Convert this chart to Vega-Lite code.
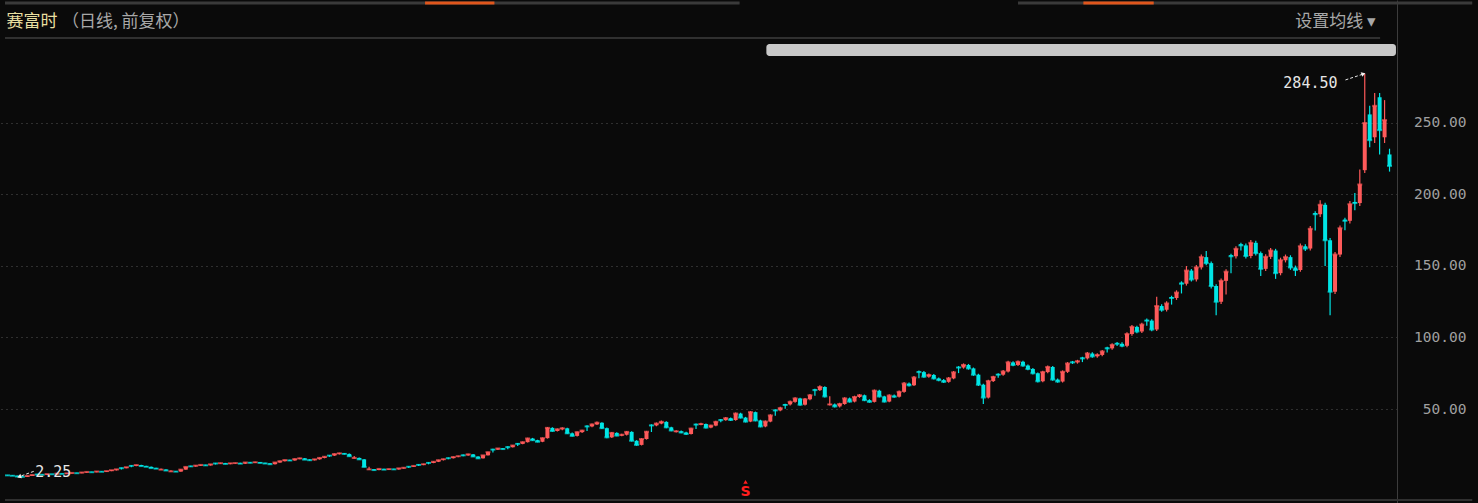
{
"$schema": "https://vega.github.io/schema/vega-lite/v6.json",
"width": 1397, "height": 503,
"autosize": {"type": "none"},
"padding": {"left": 0, "top": 0, "right": 81, "bottom": 0},
"background": "#0a0a0a",
"config": {"view": {"stroke": null}},
"resolve": {"axis": {"x": "independent", "y": "independent"}},
"datasets": {
"k": [
{"t":0,"o":3.8,"c":3.6,"h":3.9,"l":3.5},{"t":1,"o":3.6,"c":3.3,"h":3.7,"l":3.2},{"t":2,"o":3.3,"c":2.8,"h":3.4,"l":2.7},{"t":3,"o":2.8,"c":2.6,"h":2.9,"l":2.25},{"t":4,"o":2.6,"c":3.2,"h":3.3,"l":2.5},
{"t":5,"o":3.2,"c":3.9,"h":4.0,"l":3.1},{"t":6,"o":4.4,"c":4.2,"h":4.5,"l":3.9},{"t":7,"o":4.2,"c":4.0,"h":4.3,"l":3.9},{"t":8,"o":4.0,"c":4.5,"h":4.6,"l":3.9},{"t":9,"o":4.5,"c":4.4,"h":4.6,"l":4.3},
{"t":10,"o":4.4,"c":4.8,"h":4.9,"l":4.3},{"t":11,"o":4.8,"c":4.6,"h":4.9,"l":4.5},{"t":12,"o":4.6,"c":5.0,"h":5.1,"l":4.5},{"t":13,"o":5.0,"c":5.3,"h":5.4,"l":4.9},{"t":14,"o":5.3,"c":5.1,"h":5.4,"l":5.0},
{"t":15,"o":5.1,"c":5.6,"h":5.7,"l":5.0},{"t":16,"o":5.6,"c":6.0,"h":6.1,"l":5.5},{"t":17,"o":6.0,"c":5.8,"h":6.1,"l":5.7},{"t":18,"o":5.8,"c":6.3,"h":6.4,"l":5.7},{"t":19,"o":6.3,"c":6.1,"h":6.4,"l":6.0},
{"t":20,"o":6.1,"c":6.6,"h":6.7,"l":6.0},{"t":21,"o":6.6,"c":7.2,"h":7.3,"l":6.5},{"t":22,"o":7.2,"c":7.8,"h":8.0,"l":7.0},{"t":23,"o":8.9,"c":8.6,"h":9.0,"l":7.7},{"t":24,"o":8.6,"c":9.3,"h":9.5,"l":8.5},
{"t":25,"o":10.4,"c":10.2,"h":10.6,"l":9.2},{"t":26,"o":10.2,"c":10.8,"h":11.1,"l":10.0},{"t":27,"o":10.8,"c":10.1,"h":11.0,"l":9.9},{"t":28,"o":10.1,"c":9.6,"h":10.3,"l":9.4},{"t":29,"o":9.6,"c":8.7,"h":9.8,"l":8.5},
{"t":30,"o":8.7,"c":8.3,"h":8.9,"l":8.1},{"t":31,"o":7.4,"c":7.6,"h":8.4,"l":7.3},{"t":32,"o":7.6,"c":7.0,"h":7.8,"l":6.8},{"t":33,"o":6.2,"c":6.4,"h":7.1,"l":6.1},{"t":34,"o":6.4,"c":6.2,"h":6.6,"l":6.0},
{"t":35,"o":6.2,"c":7.6,"h":7.8,"l":6.1},{"t":36,"o":7.6,"c":9.5,"h":9.7,"l":7.5},{"t":37,"o":10.1,"c":9.9,"h":10.3,"l":9.4},{"t":38,"o":9.9,"c":10.4,"h":10.6,"l":9.7},{"t":39,"o":10.4,"c":10.9,"h":11.1,"l":10.2},
{"t":40,"o":10.9,"c":10.6,"h":11.1,"l":10.4},{"t":41,"o":10.6,"c":11.3,"h":11.5,"l":10.4},{"t":42,"o":12.1,"c":11.9,"h":12.3,"l":11.2},{"t":43,"o":11.9,"c":12.1,"h":12.4,"l":11.7},{"t":44,"o":12.1,"c":11.6,"h":12.3,"l":11.4},
{"t":45,"o":11.6,"c":12.0,"h":12.3,"l":11.4},{"t":46,"o":12.0,"c":12.2,"h":12.5,"l":11.8},{"t":47,"o":12.2,"c":11.8,"h":12.4,"l":11.6},{"t":48,"o":11.8,"c":12.6,"h":12.9,"l":11.6},{"t":49,"o":12.6,"c":12.4,"h":12.9,"l":12.1},
{"t":50,"o":12.4,"c":12.8,"h":13.1,"l":12.2},{"t":51,"o":12.8,"c":12.3,"h":13.0,"l":12.0},{"t":52,"o":12.3,"c":11.9,"h":12.5,"l":11.7},{"t":53,"o":11.9,"c":11.4,"h":12.1,"l":11.2},{"t":54,"o":11.4,"c":12.6,"h":12.8,"l":11.2},
{"t":55,"o":12.6,"c":13.5,"h":13.8,"l":12.4},{"t":56,"o":13.5,"c":14.3,"h":14.6,"l":13.3},{"t":57,"o":14.3,"c":14.0,"h":14.6,"l":13.7},{"t":58,"o":14.0,"c":15.0,"h":15.3,"l":13.8},{"t":59,"o":15.0,"c":15.5,"h":15.9,"l":14.8},
{"t":60,"o":15.5,"c":14.6,"h":15.7,"l":14.3},{"t":61,"o":14.6,"c":14.2,"h":14.9,"l":13.9},{"t":62,"o":14.2,"c":14.8,"h":15.1,"l":14.0},{"t":63,"o":14.8,"c":15.8,"h":16.1,"l":14.6},{"t":64,"o":15.8,"c":16.6,"h":16.9,"l":15.5},
{"t":65,"o":17.6,"c":17.4,"h":17.8,"l":16.5},{"t":66,"o":17.4,"c":18.5,"h":18.9,"l":17.2},{"t":67,"o":18.5,"c":19.0,"h":19.4,"l":18.2},{"t":68,"o":19.0,"c":18.6,"h":19.3,"l":18.2},{"t":69,"o":18.6,"c":17.0,"h":18.8,"l":16.7},
{"t":70,"o":15.5,"c":15.8,"h":17.1,"l":15.3},{"t":71,"o":15.8,"c":14.8,"h":16.0,"l":14.5},{"t":72,"o":14.8,"c":9.5,"h":15.0,"l":9.2},{"t":73,"o":7.6,"c":7.8,"h":9.6,"l":7.5},{"t":74,"o":7.8,"c":7.3,"h":8.0,"l":7.0},
{"t":75,"o":7.3,"c":8.1,"h":8.3,"l":7.1},{"t":76,"o":8.1,"c":7.6,"h":8.3,"l":7.4},{"t":77,"o":7.6,"c":8.0,"h":8.2,"l":7.4},{"t":78,"o":8.0,"c":7.8,"h":8.2,"l":7.6},{"t":79,"o":7.8,"c":8.5,"h":8.7,"l":7.6},
{"t":80,"o":8.5,"c":8.9,"h":9.1,"l":8.3},{"t":81,"o":9.8,"c":9.6,"h":10.0,"l":8.8},{"t":82,"o":9.6,"c":10.2,"h":10.4,"l":9.4},{"t":83,"o":11.2,"c":10.9,"h":11.4,"l":10.1},{"t":84,"o":10.9,"c":11.4,"h":11.7,"l":10.7},
{"t":85,"o":12.5,"c":12.3,"h":12.8,"l":11.3},{"t":86,"o":12.3,"c":13.1,"h":13.4,"l":12.1},{"t":87,"o":13.1,"c":14.2,"h":14.5,"l":12.9},{"t":88,"o":14.5,"c":14.9,"h":15.2,"l":14.0},{"t":89,"o":15.8,"c":15.6,"h":16.0,"l":14.8},
{"t":90,"o":15.6,"c":16.4,"h":16.7,"l":15.3},{"t":91,"o":16.8,"c":17.0,"h":17.3,"l":16.3},{"t":92,"o":17.9,"c":17.6,"h":18.1,"l":16.9},{"t":93,"o":17.6,"c":18.3,"h":18.7,"l":17.3},{"t":94,"o":18.3,"c":16.8,"h":18.5,"l":16.5},
{"t":95,"o":16.8,"c":15.5,"h":17.0,"l":15.2},{"t":96,"o":15.5,"c":17.6,"h":17.9,"l":15.3},{"t":97,"o":17.6,"c":19.8,"h":20.1,"l":17.4},{"t":98,"o":21.9,"c":21.6,"h":22.2,"l":19.6},{"t":99,"o":21.6,"c":22.4,"h":22.8,"l":21.3},
{"t":100,"o":22.4,"c":22.0,"h":22.8,"l":21.6},{"t":101,"o":23.6,"c":23.3,"h":23.9,"l":21.9},{"t":102,"o":23.3,"c":24.4,"h":24.8,"l":23.1},{"t":103,"o":25.9,"c":25.6,"h":26.2,"l":24.2},{"t":104,"o":25.6,"c":26.8,"h":27.2,"l":25.3},
{"t":105,"o":26.8,"c":29.4,"h":29.9,"l":26.5},{"t":106,"o":29.4,"c":28.2,"h":29.8,"l":27.8},{"t":107,"o":28.2,"c":27.1,"h":28.5,"l":26.7},{"t":108,"o":27.1,"c":29.6,"h":30.1,"l":26.8},{"t":109,"o":29.6,"c":36.8,"h":37.4,"l":29.3},
{"t":110,"o":36.8,"c":34.6,"h":37.2,"l":34.1},{"t":111,"o":34.6,"c":35.8,"h":36.4,"l":34.2},{"t":112,"o":35.8,"c":36.5,"h":37.3,"l":35.2},{"t":113,"o":36.5,"c":33.0,"h":36.9,"l":32.5},{"t":114,"o":33.0,"c":31.2,"h":33.5,"l":30.7},
{"t":115,"o":31.2,"c":33.8,"h":34.3,"l":30.8},{"t":116,"o":33.8,"c":34.9,"h":35.5,"l":33.3},{"t":117,"o":38.2,"c":37.8,"h":38.6,"l":34.7},{"t":118,"o":37.8,"c":39.2,"h":39.9,"l":37.3},{"t":119,"o":39.2,"c":40.4,"h":41.2,"l":38.8},
{"t":120,"o":40.4,"c":36.6,"h":40.8,"l":36.0},{"t":121,"o":36.6,"c":30.2,"h":37.0,"l":29.6},{"t":122,"o":30.2,"c":33.3,"h":33.9,"l":29.8},{"t":123,"o":33.3,"c":31.4,"h":33.8,"l":30.9},{"t":124,"o":31.4,"c":32.0,"h":32.7,"l":30.9},
{"t":125,"o":32.0,"c":34.0,"h":34.6,"l":31.5},{"t":126,"o":34.0,"c":27.8,"h":34.4,"l":27.2},{"t":127,"o":27.8,"c":24.9,"h":28.2,"l":24.3},{"t":128,"o":24.9,"c":29.0,"h":29.6,"l":24.5},{"t":129,"o":29.0,"c":34.1,"h":34.7,"l":28.6},
{"t":130,"o":38.9,"c":38.5,"h":39.3,"l":33.9},{"t":131,"o":38.5,"c":39.8,"h":40.5,"l":38.0},{"t":132,"o":39.8,"c":41.0,"h":41.9,"l":39.3},{"t":133,"o":41.0,"c":37.2,"h":41.4,"l":36.6},{"t":134,"o":37.2,"c":35.0,"h":37.6,"l":34.4},
{"t":135,"o":33.9,"c":34.4,"h":35.2,"l":33.6},{"t":136,"o":34.4,"c":33.6,"h":35.0,"l":33.0},{"t":137,"o":33.6,"c":32.5,"h":34.1,"l":31.9},{"t":138,"o":32.5,"c":36.3,"h":36.9,"l":32.1},{"t":139,"o":39.5,"c":39.1,"h":39.9,"l":36.1},
{"t":140,"o":39.1,"c":39.5,"h":40.3,"l":38.6},{"t":141,"o":39.5,"c":37.0,"h":39.9,"l":36.4},{"t":142,"o":37.0,"c":38.4,"h":39.0,"l":36.5},{"t":143,"o":38.4,"c":41.0,"h":41.7,"l":37.9},{"t":144,"o":42.6,"c":42.2,"h":43.0,"l":40.7},
{"t":145,"o":42.2,"c":43.6,"h":44.4,"l":41.7},{"t":146,"o":43.6,"c":42.3,"h":44.1,"l":41.6},{"t":147,"o":42.3,"c":46.8,"h":47.6,"l":41.8},{"t":148,"o":46.8,"c":44.0,"h":47.3,"l":43.4},{"t":149,"o":44.0,"c":41.2,"h":44.5,"l":40.6},
{"t":150,"o":41.2,"c":47.8,"h":48.6,"l":40.8},{"t":151,"o":47.8,"c":42.0,"h":48.2,"l":41.4},{"t":152,"o":42.0,"c":37.8,"h":42.5,"l":37.2},{"t":153,"o":37.8,"c":41.2,"h":41.9,"l":37.3},{"t":154,"o":41.2,"c":45.5,"h":46.3,"l":40.7},
{"t":155,"o":49.4,"c":49.0,"h":49.8,"l":45.2},{"t":156,"o":49.0,"c":50.6,"h":51.5,"l":48.4},{"t":157,"o":53.3,"c":52.8,"h":53.7,"l":50.2},{"t":158,"o":53.2,"c":55.0,"h":55.9,"l":52.5},{"t":159,"o":55.0,"c":57.4,"h":58.3,"l":54.4},
{"t":160,"o":57.4,"c":53.0,"h":57.9,"l":52.3},{"t":161,"o":53.0,"c":56.8,"h":57.7,"l":52.4},{"t":162,"o":56.8,"c":59.6,"h":60.5,"l":56.1},{"t":163,"o":63.6,"c":63.2,"h":64.2,"l":59.2},{"t":164,"o":63.2,"c":65.4,"h":66.6,"l":62.6},
{"t":165,"o":65.4,"c":58.8,"h":65.9,"l":58.0},{"t":166,"o":52.8,"c":53.2,"h":59.0,"l":52.5},{"t":167,"o":53.2,"c":51.8,"h":53.9,"l":51.0},{"t":168,"o":51.8,"c":53.5,"h":54.3,"l":51.1},{"t":169,"o":53.5,"c":57.4,"h":58.3,"l":53.0},
{"t":170,"o":57.4,"c":55.2,"h":58.0,"l":54.5},{"t":171,"o":55.2,"c":58.4,"h":59.3,"l":54.6},{"t":172,"o":58.4,"c":59.6,"h":60.5,"l":57.8},{"t":173,"o":59.6,"c":56.2,"h":60.1,"l":55.5},{"t":174,"o":56.2,"c":55.0,"h":56.8,"l":54.3},
{"t":175,"o":55.0,"c":62.8,"h":63.7,"l":54.5},{"t":176,"o":62.8,"c":58.8,"h":63.4,"l":58.1},{"t":177,"o":58.8,"c":55.2,"h":59.3,"l":54.5},{"t":178,"o":55.2,"c":59.4,"h":60.3,"l":54.7},{"t":179,"o":59.4,"c":58.6,"h":60.2,"l":57.9},
{"t":180,"o":58.6,"c":62.0,"h":62.9,"l":58.0},{"t":181,"o":62.0,"c":67.8,"h":68.8,"l":61.4},{"t":182,"o":67.8,"c":66.6,"h":68.5,"l":65.8},{"t":183,"o":66.6,"c":72.0,"h":73.0,"l":66.0},{"t":184,"o":76.2,"c":75.8,"h":76.9,"l":71.5},
{"t":185,"o":75.8,"c":72.6,"h":76.5,"l":71.8},{"t":186,"o":72.6,"c":73.8,"h":74.8,"l":71.9},{"t":187,"o":73.8,"c":71.4,"h":74.5,"l":70.6},{"t":188,"o":71.4,"c":70.2,"h":72.1,"l":69.4},{"t":189,"o":70.2,"c":69.0,"h":70.9,"l":68.2},
{"t":190,"o":69.0,"c":71.4,"h":72.3,"l":68.3},{"t":191,"o":71.4,"c":75.6,"h":76.6,"l":70.8},{"t":192,"o":79.4,"c":79.0,"h":80.0,"l":75.1},{"t":193,"o":79.0,"c":80.8,"h":81.9,"l":78.2},{"t":194,"o":80.8,"c":78.4,"h":81.5,"l":77.5},
{"t":195,"o":78.4,"c":74.0,"h":79.0,"l":73.2},{"t":196,"o":74.0,"c":67.0,"h":74.6,"l":66.0},{"t":197,"o":67.0,"c":58.0,"h":67.6,"l":53.5},{"t":198,"o":58.0,"c":69.5,"h":70.4,"l":57.4},{"t":199,"o":69.5,"c":72.4,"h":73.3,"l":68.8},
{"t":200,"o":74.5,"c":74.0,"h":75.0,"l":71.8},{"t":201,"o":74.0,"c":76.2,"h":77.2,"l":73.3},{"t":202,"o":76.2,"c":82.6,"h":83.7,"l":75.5},{"t":203,"o":82.6,"c":80.8,"h":83.4,"l":79.9},{"t":204,"o":80.8,"c":83.0,"h":84.0,"l":80.0},
{"t":205,"o":83.0,"c":80.4,"h":83.8,"l":79.5},{"t":206,"o":80.4,"c":78.0,"h":81.1,"l":77.1},{"t":207,"o":78.0,"c":75.0,"h":78.7,"l":74.1},{"t":208,"o":75.0,"c":69.4,"h":75.6,"l":68.5},{"t":209,"o":69.4,"c":75.8,"h":76.8,"l":68.7},
{"t":210,"o":75.8,"c":79.4,"h":80.4,"l":75.0},{"t":211,"o":79.4,"c":70.6,"h":80.0,"l":69.7},{"t":212,"o":70.6,"c":69.2,"h":71.3,"l":68.3},{"t":213,"o":69.2,"c":76.0,"h":77.0,"l":68.5},{"t":214,"o":76.0,"c":81.8,"h":82.8,"l":75.2},
{"t":215,"o":83.0,"c":82.6,"h":83.6,"l":81.5},{"t":216,"o":82.6,"c":83.4,"h":84.4,"l":81.7},{"t":217,"o":85.9,"c":85.4,"h":86.5,"l":82.8},{"t":218,"o":85.4,"c":88.8,"h":89.9,"l":84.6},{"t":219,"o":88.8,"c":86.8,"h":89.6,"l":85.9},
{"t":220,"o":86.8,"c":87.8,"h":88.9,"l":85.9},{"t":221,"o":87.8,"c":90.2,"h":91.3,"l":86.9},{"t":222,"o":92.9,"c":92.4,"h":93.6,"l":89.5},{"t":223,"o":92.4,"c":94.8,"h":96.0,"l":91.5},{"t":224,"o":96.0,"c":95.6,"h":96.8,"l":94.0},
{"t":225,"o":95.6,"c":94.2,"h":96.7,"l":93.1},{"t":226,"o":94.2,"c":102.4,"h":103.7,"l":93.2},{"t":227,"o":102.4,"c":107.4,"h":108.8,"l":101.3},{"t":228,"o":107.4,"c":104.2,"h":108.3,"l":103.0},{"t":229,"o":104.2,"c":109.0,"h":110.3,"l":103.1},
{"t":230,"o":112.3,"c":111.8,"h":113.2,"l":108.2},{"t":231,"o":111.8,"c":105.6,"h":112.7,"l":104.4},{"t":232,"o":105.6,"c":122.0,"h":128.5,"l":104.6},{"t":233,"o":122.0,"c":119.4,"h":123.3,"l":118.0},{"t":234,"o":119.4,"c":123.8,"h":125.3,"l":118.2},
{"t":235,"o":128.2,"c":127.6,"h":129.2,"l":123.0},{"t":236,"o":127.6,"c":131.4,"h":133.0,"l":126.3},{"t":237,"o":138.4,"c":137.6,"h":139.3,"l":130.8},{"t":238,"o":137.6,"c":146.8,"h":150.0,"l":136.3},{"t":239,"o":146.8,"c":140.6,"h":147.9,"l":139.1},
{"t":240,"o":140.6,"c":149.0,"h":150.7,"l":139.2},{"t":241,"o":149.0,"c":156.2,"h":158.0,"l":147.6},{"t":242,"o":156.2,"c":152.0,"h":160.5,"l":150.5},{"t":243,"o":152.0,"c":136.0,"h":153.2,"l":134.3},{"t":244,"o":136.0,"c":125.0,"h":137.3,"l":115.5},
{"t":245,"o":125.0,"c":139.6,"h":141.2,"l":123.5},{"t":246,"o":139.6,"c":146.0,"h":147.7,"l":130.0},{"t":247,"o":157.5,"c":156.8,"h":158.6,"l":145.0},{"t":248,"o":156.8,"c":162.0,"h":163.8,"l":155.2},{"t":249,"o":165.2,"c":164.4,"h":166.3,"l":160.8},
{"t":250,"o":164.4,"c":157.0,"h":165.8,"l":155.3},{"t":251,"o":157.0,"c":166.2,"h":168.1,"l":155.5},{"t":252,"o":166.2,"c":159.0,"h":167.6,"l":157.3},{"t":253,"o":159.0,"c":148.0,"h":160.2,"l":143.0},{"t":254,"o":148.0,"c":156.4,"h":158.2,"l":146.5},
{"t":255,"o":156.4,"c":160.8,"h":162.6,"l":154.9},{"t":256,"o":160.8,"c":145.0,"h":162.0,"l":141.0},{"t":257,"o":145.0,"c":154.0,"h":155.8,"l":143.5},{"t":258,"o":154.0,"c":156.2,"h":158.0,"l":152.5},{"t":259,"o":156.2,"c":149.0,"h":157.5,"l":147.3},
{"t":260,"o":149.0,"c":147.2,"h":150.3,"l":143.0},{"t":261,"o":147.2,"c":163.8,"h":165.7,"l":146.0},{"t":262,"o":163.8,"c":162.2,"h":165.2,"l":160.4},{"t":263,"o":162.2,"c":176.0,"h":178.0,"l":160.8},{"t":264,"o":187.0,"c":186.2,"h":188.3,"l":174.8},
{"t":265,"o":186.2,"c":192.8,"h":196.0,"l":184.3},{"t":266,"o":192.8,"c":168.0,"h":194.2,"l":150.0},{"t":267,"o":168.0,"c":132.0,"h":169.5,"l":115.5},{"t":268,"o":132.0,"c":158.0,"h":159.8,"l":130.5},{"t":269,"o":158.0,"c":176.4,"h":178.4,"l":156.3},
{"t":270,"o":182.4,"c":181.6,"h":183.7,"l":175.0},{"t":271,"o":181.6,"c":193.2,"h":195.4,"l":179.7},{"t":272,"o":194.8,"c":194.0,"h":201.0,"l":189.0},{"t":273,"o":194.0,"c":207.0,"h":217.5,"l":192.0},{"t":274,"o":217.0,"c":250.0,"h":284.5,"l":215.0},
{"t":275,"o":256.0,"c":238.0,"h":262.0,"l":233.0},{"t":276,"o":240.0,"c":262.0,"h":271.0,"l":236.0},{"t":277,"o":268.0,"c":245.0,"h":271.0,"l":228.0},{"t":278,"o":240.0,"c":252.0,"h":266.0,"l":236.0},{"t":279,"o":228.0,"c":220.0,"h":232.0,"l":216.0}
]
},
"layer": [
{
"data": {"name": "k"},
"mark": {"type": "rule", "strokeWidth": 1.2},
"encoding": {
"x": {"field": "t", "type": "quantitative", "scale": {"domain": [-0.5, 279.5], "nice": false, "zero": false}, "axis": null},
"y": {"field": "l", "type": "quantitative", "scale": {"domain": [-15.73, 336.0], "nice": false, "zero": false},
"axis": {"orient": "right", "values": [50, 100, 150, 200, 250], "format": ".2f", "grid": true, "gridColor": "#555555", "gridDash": [1, 4], "gridWidth": 1, "domain": true, "domainColor": "#3c3c3c", "domainWidth": 1, "ticks": false, "labelColor": "#a0a0a0", "labelFont": "DejaVu Sans Mono", "labelFontSize": 14.5, "labelAlign": "right", "labelBaseline": "middle", "labelPadding": 69, "title": null}},
"y2": {"field": "h"},
"color": {"condition": {"test": "datum.c >= datum.o", "value": "#ff5a5a"}, "value": "#00e5e5"}
}
},
{
"data": {"name": "k"},
"mark": {"type": "bar", "size": 4},
"encoding": {
"x": {"field": "t", "type": "quantitative", "scale": {"domain": [-0.5, 279.5], "nice": false, "zero": false}, "axis": null},
"y": {"field": "o", "type": "quantitative", "scale": {"domain": [-15.73, 336.0], "nice": false, "zero": false}, "axis": null},
"y2": {"field": "c"},
"color": {"condition": {"test": "datum.c >= datum.o", "value": "#ff5a5a"}, "value": "#00e5e5"}
}
},
{
"data": {"name": "k"},
"mark": {"type": "tick", "orient": "horizontal", "size": 5, "thickness": 2},
"encoding": {
"x": {"field": "t", "type": "quantitative", "scale": {"domain": [-0.5, 279.5], "nice": false, "zero": false}, "axis": null},
"y": {"field": "c", "type": "quantitative", "scale": {"domain": [-15.73, 336.0], "nice": false, "zero": false}, "axis": null},
"color": {"condition": {"test": "datum.c >= datum.o", "value": "#ff5a5a"}, "value": "#00e5e5"}
}
},
{
"data": {"values": [{"t": -0.5, "t2": 277.1, "v": 309.4}, {"t": -0.5, "t2": 295.7, "v": -13.6}]},
"mark": {"type": "rule", "color": "#303030", "strokeWidth": 2},
"encoding": {
"x": {"field": "t", "type": "quantitative", "scale": {"domain": [-0.5, 279.5], "nice": false, "zero": false}, "axis": null},
"x2": {"field": "t2"},
"y": {"field": "v", "type": "quantitative", "scale": {"domain": [-15.73, 336.0], "nice": false, "zero": false}, "axis": null}
}
},
{
"data": {"values": [{"t": -0.5, "t2": 147.8, "v": 333.9}, {"t": 204.0, "t2": 295.7, "v": 333.9}]},
"mark": {"type": "rule", "color": "#3a3a3a", "strokeWidth": 3},
"encoding": {
"x": {"field": "t", "type": "quantitative", "scale": {"domain": [-0.5, 279.5], "nice": false, "zero": false}, "axis": null},
"x2": {"field": "t2"},
"y": {"field": "v", "type": "quantitative", "scale": {"domain": [-15.73, 336.0], "nice": false, "zero": false}, "axis": null}
}
},
{
"data": {"values": [{"t": 84.3, "t2": 98.3, "v": 333.9}, {"t": 217.2, "t2": 231.4, "v": 333.9}]},
"mark": {"type": "rule", "color": "#e0561c", "strokeWidth": 3},
"encoding": {
"x": {"field": "t", "type": "quantitative", "scale": {"domain": [-0.5, 279.5], "nice": false, "zero": false}, "axis": null},
"x2": {"field": "t2"},
"y": {"field": "v", "type": "quantitative", "scale": {"domain": [-15.73, 336.0], "nice": false, "zero": false}, "axis": null}
}
},
{
"data": {"values": [{"t": 153.2, "t2": 280.3, "v": 296.9, "v2": 305.2}]},
"mark": {"type": "rect", "color": "#c8c8c8", "cornerRadius": 3},
"encoding": {
"x": {"field": "t", "type": "quantitative", "scale": {"domain": [-0.5, 279.5], "nice": false, "zero": false}, "axis": null},
"x2": {"field": "t2"},
"y": {"field": "v", "type": "quantitative", "scale": {"domain": [-15.73, 336.0], "nice": false, "zero": false}, "axis": null},
"y2": {"field": "v2"}
}
},
{
"data": {"values": [{"t": -0.2, "v": 320.6, "label": "赛富时"}]},
"mark": {"type": "text", "align": "left", "baseline": "middle", "font": "Noto Sans CJK SC", "fontSize": 17, "color": "#e8dfa0"},
"encoding": {
"x": {"field": "t", "type": "quantitative", "scale": {"domain": [-0.5, 279.5], "nice": false, "zero": false}, "axis": null},
"y": {"field": "v", "type": "quantitative", "scale": {"domain": [-15.73, 336.0], "nice": false, "zero": false}, "axis": null},
"text": {"field": "label"}
}
},
{
"data": {"values": [{"t": 11.0, "v": 320.6, "label": "（日线, 前复权）"}]},
"mark": {"type": "text", "align": "left", "baseline": "middle", "font": "Noto Sans CJK SC", "fontSize": 17, "color": "#a8a8a8"},
"encoding": {
"x": {"field": "t", "type": "quantitative", "scale": {"domain": [-0.5, 279.5], "nice": false, "zero": false}, "axis": null},
"y": {"field": "v", "type": "quantitative", "scale": {"domain": [-15.73, 336.0], "nice": false, "zero": false}, "axis": null},
"text": {"field": "label"}
}
},
{
"data": {"values": [{"t": 276.3, "v": 320.6, "label": "设置均线 ▾"}]},
"mark": {"type": "text", "align": "right", "baseline": "middle", "font": "Noto Sans CJK SC", "fontSize": 17, "color": "#a8a8a8"},
"encoding": {
"x": {"field": "t", "type": "quantitative", "scale": {"domain": [-0.5, 279.5], "nice": false, "zero": false}, "axis": null},
"y": {"field": "v", "type": "quantitative", "scale": {"domain": [-15.73, 336.0], "nice": false, "zero": false}, "axis": null},
"text": {"field": "label"}
}
},
{
"data": {"values": [{"t": 268.5, "v": 278.0, "label": "284.50"}]},
"mark": {"type": "text", "align": "right", "baseline": "middle", "font": "DejaVu Sans Mono", "fontSize": 15, "color": "#e6e6e6"},
"encoding": {
"x": {"field": "t", "type": "quantitative", "scale": {"domain": [-0.5, 279.5], "nice": false, "zero": false}, "axis": null},
"y": {"field": "v", "type": "quantitative", "scale": {"domain": [-15.73, 336.0], "nice": false, "zero": false}, "axis": null},
"text": {"field": "label"}
}
},
{
"data": {"values": [{"t": 5.6, "v": 5.9, "label": "2.25"}]},
"mark": {"type": "text", "align": "left", "baseline": "middle", "font": "DejaVu Sans Mono", "fontSize": 15, "color": "#e6e6e6"},
"encoding": {
"x": {"field": "t", "type": "quantitative", "scale": {"domain": [-0.5, 279.5], "nice": false, "zero": false}, "axis": null},
"y": {"field": "v", "type": "quantitative", "scale": {"domain": [-15.73, 336.0], "nice": false, "zero": false}, "axis": null},
"text": {"field": "label"}
}
},
{
"data": {"values": [{"t": 270.1, "t2": 273.5, "v": 280.1, "v2": 284.0}, {"t": 5.3, "t2": 2.6, "v": 6.4, "v2": 3.0}]},
"mark": {"type": "rule", "color": "#e6e6e6", "strokeWidth": 1, "strokeDash": [3, 2]},
"encoding": {
"x": {"field": "t", "type": "quantitative", "scale": {"domain": [-0.5, 279.5], "nice": false, "zero": false}, "axis": null},
"x2": {"field": "t2"},
"y": {"field": "v", "type": "quantitative", "scale": {"domain": [-15.73, 336.0], "nice": false, "zero": false}, "axis": null},
"y2": {"field": "v2"}
}
},
{
"data": {"values": [{"t": 273.6, "v": 284.2, "ang": 70}, {"t": 2.5, "v": 2.8, "ang": 250}]},
"mark": {"type": "point", "shape": "triangle", "filled": true, "size": 22, "color": "#f0f0f0", "opacity": 1},
"encoding": {
"x": {"field": "t", "type": "quantitative", "scale": {"domain": [-0.5, 279.5], "nice": false, "zero": false}, "axis": null},
"y": {"field": "v", "type": "quantitative", "scale": {"domain": [-15.73, 336.0], "nice": false, "zero": false}, "axis": null},
"angle": {"field": "ang", "type": "quantitative", "scale": null}
}
},
{
"data": {"values": [{"t": 149.0, "v": -1.0}]},
"mark": {"type": "point", "shape": "triangle-up", "filled": true, "size": 20, "color": "#ff1e1e", "opacity": 1},
"encoding": {
"x": {"field": "t", "type": "quantitative", "scale": {"domain": [-0.5, 279.5], "nice": false, "zero": false}, "axis": null},
"y": {"field": "v", "type": "quantitative", "scale": {"domain": [-15.73, 336.0], "nice": false, "zero": false}, "axis": null}
}
},
{
"data": {"values": [{"t": 149.0, "v": -8.0, "label": "S"}]},
"mark": {"type": "text", "align": "center", "baseline": "middle", "font": "DejaVu Sans", "fontWeight": "bold", "fontSize": 14, "color": "#ff1e1e"},
"encoding": {
"x": {"field": "t", "type": "quantitative", "scale": {"domain": [-0.5, 279.5], "nice": false, "zero": false}, "axis": null},
"y": {"field": "v", "type": "quantitative", "scale": {"domain": [-15.73, 336.0], "nice": false, "zero": false}, "axis": null},
"text": {"field": "label"}
}
}
]
}
